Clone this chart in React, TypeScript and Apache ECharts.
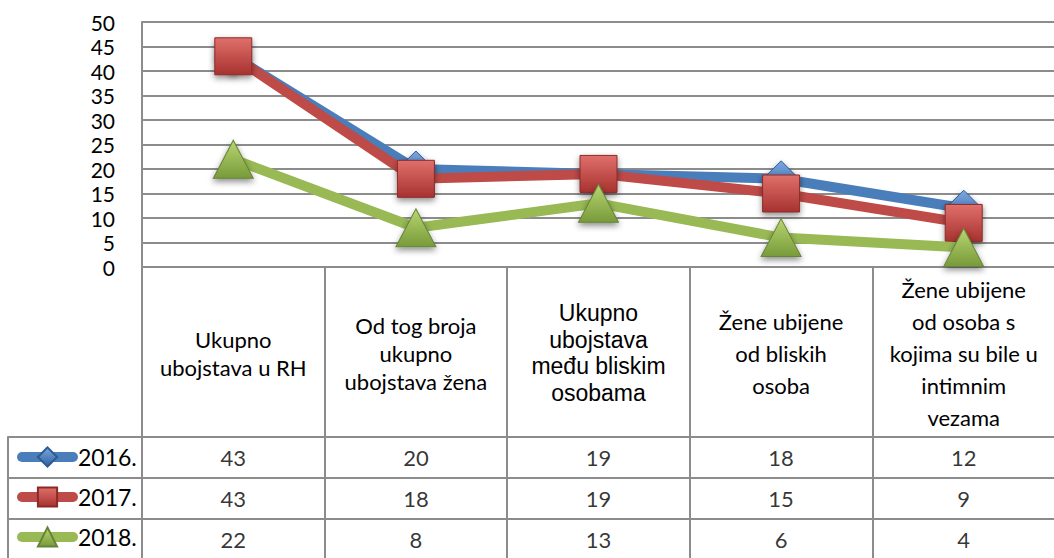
import React, { useEffect, useRef } from "react";
import * as echarts from "echarts";

const categories = [
  "Ukupno\nubojstava u RH",
  "Od tog broja\nukupno\nubojstava žena",
  "Ukupno\nubojstava\nmeđu bliskim\nosobama",
  "Žene ubijene\nod bliskih\nosoba",
  "Žene ubijene\nod osoba s\nkojima su bile u\nintimnim\nvezama",
];
const categoryStyles = ["a", "a", "b", "c", "c"];
const seriesNames = ["2016.", "2017.", "2018."];
const values2016 = [43, 20, 19, 18, 12];
const values2017 = [43, 18, 19, 15, 9];
const values2018 = [22, 8, 13, 6, 4];
const yMin = 0;
const yMax = 50;
const yInterval = 5;

const GRAY = "#8c8c8c";
const FONT = "Lato, 'Open Sans', sans-serif";

const lineColors = ["#4a7ebb", "#be4b48", "#98b954"];
const markerSymbols = ["diamond", "rect", "triangle"];
const markerSizes: any[] = [[36, 36], [37, 37], [40, 38]];
const markerGrad = [
  ["#7aa7e0", "#2f5f9e", "#2c5a93"],
  ["#e0706b", "#a7322f", "#8a2a28"],
  ["#b8d672", "#789a39", "#66833a"],
];

export default function App() {
  const ref = useRef<HTMLDivElement>(null);
  useEffect(() => {
    if (!ref.current) return;
    const chart = echarts.init(ref.current, null, { renderer: "svg" });
    const allValues = [values2016, values2017, values2018];

    const lineSeries = allValues.map((vals, i) => ({
      name: seriesNames[i],
      type: "line",
      xAxisIndex: 0,
      yAxisIndex: 0,
      data: vals,
      symbol: markerSymbols[i],
      symbolSize: markerSizes[i],
      lineStyle: { color: lineColors[i], width: 10, cap: "round", join: "round" },
      itemStyle: {
        color: new echarts.graphic.LinearGradient(0, 0, 0, 1, [
          { offset: 0, color: markerGrad[i][0] },
          { offset: 1, color: markerGrad[i][1] },
        ]),
        borderColor: markerGrad[i][2],
        borderWidth: 1,
        shadowBlur: 6,
        shadowColor: "rgba(0,0,0,0.45)",
        shadowOffsetY: 3,
      },
      z: 2 + i,
    }));

    const cellData: any[] = [];
    allValues.forEach((vals, r) => {
      vals.forEach((v, c) => cellData.push([c, r, v]));
    });

    const splitStyle = { color: GRAY, width: 2 };

    chart.setOption({
      animation: false,
      grid: [
        { left: 142, right: -1, top: 22, height: 245, containLabel: false, outerBoundsMode: "none" },
        { left: 142, right: -1, top: 267, height: 170, containLabel: false, outerBoundsMode: "none" },
        { left: 142, right: -1, top: 437, height: 123, containLabel: false, outerBoundsMode: "none" },
        { left: 8, width: 134, top: 437, height: 123, containLabel: false, outerBoundsMode: "none" },
      ],
      legend: {
        orient: "vertical",
        left: 17,
        top: 445.5,
        itemWidth: 51,
        itemHeight: 24,
        itemGap: 17,
        padding: 0,
        data: seriesNames,
        textStyle: { fontSize: 23, fontFamily: FONT, color: "#000" },
        lineStyle: { width: 10, cap: "round" },
        selectedMode: false,
      },
      xAxis: [
        {
          gridIndex: 0,
          type: "category",
          data: categories,
          boundaryGap: true,
          axisLine: { show: true, lineStyle: splitStyle },
          axisTick: { show: false },
          splitLine: { show: false },
          axisLabel: {
            interval: 0,
            margin: 86,
            verticalAlign: "middle",
            align: "center",
            color: "#000",
            formatter: (value: string, index: number) =>
              value
                .split("\n")
                .map((l) => `{${categoryStyles[index]}|${l}}`)
                .join("\n"),
            rich: {
              a: { fontSize: 22, fontFamily: FONT, lineHeight: 28, color: "#000" },
              b: { fontSize: 23, fontFamily: "'Liberation Sans', Arial, sans-serif", lineHeight: 26.5, color: "#000" },
              c: { fontSize: 22, fontFamily: FONT, lineHeight: 32, color: "#000" },
            },
          },
        },
        {
          gridIndex: 1,
          type: "category",
          data: categories,
          boundaryGap: true,
          axisLine: { show: true, lineStyle: splitStyle },
          axisTick: { show: false },
          axisLabel: { show: false },
          splitLine: { show: true, interval: 0, lineStyle: splitStyle },
        },
        {
          gridIndex: 2,
          type: "category",
          data: categories,
          boundaryGap: true,
          axisLine: { show: false },
          axisTick: { show: false },
          axisLabel: { show: false },
          splitLine: { show: true, interval: 0, lineStyle: splitStyle },
        },
        {
          gridIndex: 3,
          type: "value",
          show: false,
        },
      ],
      yAxis: [
        {
          gridIndex: 0,
          type: "value",
          min: yMin,
          max: yMax,
          interval: yInterval,
          axisLine: { show: true, lineStyle: splitStyle },
          axisTick: { show: false },
          splitLine: { show: true, lineStyle: splitStyle },
          axisLabel: { margin: 27, fontSize: 21, fontFamily: FONT, color: "#000" },
        },
        {
          gridIndex: 1,
          type: "value",
          min: 0,
          max: 1,
          axisLine: { show: true, lineStyle: splitStyle },
          axisTick: { show: false },
          axisLabel: { show: false },
          splitLine: { show: false },
        },
        {
          gridIndex: 2,
          type: "category",
          data: seriesNames,
          inverse: true,
          axisLine: { show: true, lineStyle: splitStyle },
          axisTick: { show: false },
          axisLabel: { show: false },
          splitLine: { show: true, interval: 0, lineStyle: splitStyle },
        },
        {
          gridIndex: 3,
          type: "category",
          data: seriesNames,
          inverse: true,
          axisLine: { show: true, lineStyle: splitStyle },
          axisTick: { show: false },
          axisLabel: { show: false },
          splitLine: { show: true, interval: 0, lineStyle: splitStyle },
        },
      ],
      series: [
        ...lineSeries,
        {
          type: "scatter",
          xAxisIndex: 2,
          yAxisIndex: 2,
          data: cellData,
          symbolSize: 1,
          silent: true,
          itemStyle: { color: "rgba(0,0,0,0)" },
          label: {
            show: true,
            position: "inside",
            formatter: (p: any) => String(p.value[2]),
            fontSize: 22,
            fontFamily: FONT,
            color: "#000",
          },
        },
      ],
    });
    return () => chart.dispose();
  }, []);
  return (
    <div
      ref={ref}
      style={{ position: "absolute", left: 0, top: 0, width: 1054, height: 558, background: "#fff" }}
    />
  );
}
